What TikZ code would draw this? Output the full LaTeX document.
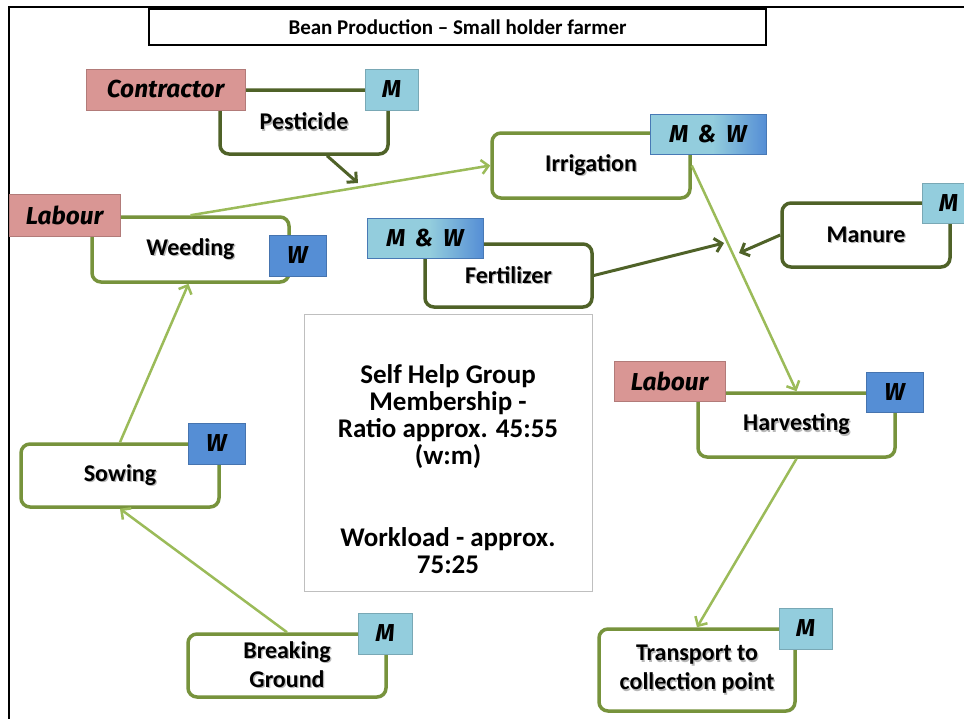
\documentclass[tikz,border=0pt]{standalone}
\usepackage{fontspec}
\setmainfont{Carlito}
\newfontfamily\tagfont{Fira Sans}
\usetikzlibrary{arrows.meta,shadows}

\definecolor{darkolive}{HTML}{4F6228}
\definecolor{midgreen}{HTML}{77933C}
\definecolor{lightgreen}{HTML}{9BBB59}
\definecolor{tagpink}{HTML}{D99694}
\definecolor{tagsky}{HTML}{93CDDD}
\definecolor{tagblue}{HTML}{558ED5}
\definecolor{panelgray}{HTML}{BFBFBF}

% sky-to-blue band used by the "M & W" tags
\pgfdeclarehorizontalshading{mwshade}{100bp}{color(0bp)=(tagsky); color(25bp)=(tagsky); color(52bp)=(tagsky); color(75bp)=(tagblue); color(100bp)=(tagblue)}

% text with a soft offset shadow
\newcommand\shd[1]{\rlap{\hspace{1.3pt}\raisebox{-1.3pt}{\textcolor{black!28}{#1}}}#1}

\tikzset{
  sz/.style 2 args={minimum width=#1pt, minimum height=#2pt},
  task/.style={draw, rounded corners=9pt, line width=3.5pt, fill=white,
    align=center, inner sep=0pt,
    font=\bfseries\fontsize{24}{29}\selectfont,
    drop shadow={shadow xshift=1.2pt, shadow yshift=-1.6pt, opacity=.22}},
  olive/.style={task, draw=darkolive},
  leaf/.style={task, draw=midgreen},
  tag/.style={draw=#1!82!black, fill=#1, line width=.6pt, inner sep=0pt,
    font=\tagfont\bfseries\itshape\fontsize{24.5}{24.5}\selectfont},
  mwtag/.style={draw=tagblue!85!black, shading=mwshade, line width=.6pt, inner sep=0pt,
    font=\tagfont\bfseries\itshape\fontsize{24.5}{24.5}\selectfont},
  flow/.style={line width=2.5pt, draw=lightgreen,
    -{Straight Barb[length=7pt,width=14pt]}},
  feed/.style={line width=3pt, draw=darkolive,
    -{Straight Barb[length=7pt,width=14pt]}},
}

\begin{document}
\begin{tikzpicture}[x=1pt,y=-1pt]
\useasboundingbox (0,0) rectangle (964,718);
\clip (0,0) rectangle (964,718);
\fill[white] (0,0) rectangle (964,718);

% outer frame
\draw[line width=2pt] (9,730) -- (9,7) -- (980,7);

% title
\node[draw, line width=1.3pt, fill=white, sz={617}{36}, font=\bfseries\fontsize{21}{24}\selectfont]
  (title) at (457.5,27) {Bean Production -- Small holder farmer};

% central note
\node[draw=panelgray, line width=.8pt, fill=white, sz={288}{277}] (panel) at (448,452.5) {};
\node[align=center, font=\bfseries\fontsize{27}{27}\selectfont] (paneltext) at (448,469)
  {Self Help Group\\Membership -\\Ratio approx. 45:55\\(w:m)\\[55pt]Workload - approx.\\75:25};

% activity boxes
\node[olive, sz={168}{64}] (pest) at (304,122) {\shd{Pesticide}};
\node[leaf,  sz={197}{65}] (weed) at (190.5,249.5) {\shd{Weeding}};
\node[leaf,  sz={198}{65}] (irr)  at (591,165.5) {\shd{Irrigation}};
\node[olive, sz={167}{63}] (fert) at (508.5,275.5) {\shd{Fertilizer}};
\node[olive, sz={168}{64}] (man)  at (866,235) {\shd{Manure}};
\node[leaf,  sz={197}{64}] (harv) at (796.5,425) {\shd{Harvesting}};
\node[leaf,  sz={196}{82}] (trans) at (697,670) {\shd{Transport to}\\\shd{collection point}};
\node[leaf,  sz={198}{63}] (sow)  at (120,475.5) {\shd{Sowing}};
\node[leaf,  sz={198}{63}] (brk)  at (287,665.5) {\shd{Breaking}\\\shd{Ground}};

% who does the work
\node[tag=tagpink, sz={159}{41}] (pestC) at (165.5,89.5) {Contractor};
\node[tag=tagsky,  sz={53}{41}]  (pestM) at (391.5,89.5) {M};
\node[tag=tagpink, sz={111}{42}] (weedL) at (64.5,215) {Labour};
\node[tag=tagblue, sz={57}{41}]  (weedW) at (297.5,255.5) {W};
\node[mwtag,       sz={116}{40}] (irrMW) at (708,134) {M\,\ \&\ \,W};
\node[mwtag,       sz={116}{40}] (fertMW) at (425,238) {M\,\ \&\ \,W};
\node[tag=tagsky,  sz={53}{40}]  (manM) at (948.5,203) {M};
\node[tag=tagpink, sz={111}{40}] (harvL) at (669.5,381) {Labour};
\node[tag=tagblue, sz={57}{40}]  (harvW) at (894.5,392) {W};
\node[tag=tagsky,  sz={53}{41}]  (transM) at (805.5,628.5) {M};
\node[tag=tagblue, sz={57}{41}]  (sowW) at (216.5,443.5) {W};
\node[tag=tagsky,  sz={54}{41}]  (brkM) at (385,633.5) {M};

% free ends of the inputs
\coordinate (pestEnd) at (358,183);
\coordinate (fertEnd) at (724,243);
\coordinate (manEnd) at (739,253);

% connectors
\draw[feed] ([xshift=23pt]pest.south) -- (pestEnd);
\draw[feed] (fert.east) -- (fertEnd);
\draw[feed] (man.west) -- (manEnd);
\draw[flow] (brk.north) -- (sow.south);
\draw[flow] (sow.north) -- ([xshift=-2pt]weed.south);
\draw[flow] (weed.north) -- (irr.west);
\draw[flow] (irr.east) -- (harv.north);
\draw[flow] (harv.south) -- (trans.north);
\end{tikzpicture}
\end{document}
